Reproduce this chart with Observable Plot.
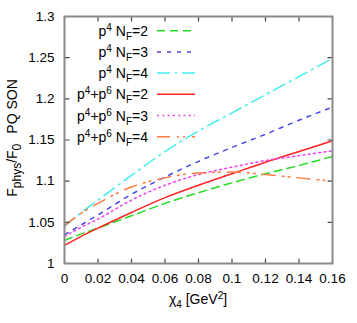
<!DOCTYPE html>
<html><head><meta charset="utf-8">
<script src="https://cdn.jsdelivr.net/npm/d3@7"></script>
<script src="https://cdn.jsdelivr.net/npm/@observablehq/plot@0.6"></script>
<style>body{margin:0;background:#fff;} #chart svg{display:block;overflow:visible;}</style>
</head><body><div id="chart"></div>
<script>
// chi_4 values (GeV^2) at which curves are sampled
const chi = [0, 0.01, 0.02, 0.04, 0.06, 0.08, 0.10, 0.12, 0.14, 0.16];
// F_phys/F_0 for each curve
const p4_NF2   = [1.028, 1.036, 1.043, 1.058, 1.073, 1.086, 1.098, 1.109, 1.119, 1.130];
const p4_NF3   = [1.035, 1.047, 1.059, 1.084, 1.105, 1.124, 1.141, 1.157, 1.174, 1.190];
const p4_NF4   = [1.045, 1.062, 1.077, 1.107, 1.136, 1.161, 1.183, 1.205, 1.227, 1.249];
const p4p6_NF2 = [1.022, 1.033, 1.043, 1.062, 1.080, 1.095, 1.109, 1.123, 1.136, 1.149];
const p4p6_NF3 = [1.033, 1.044, 1.054, 1.077, 1.095, 1.108, 1.117, 1.125, 1.131, 1.137];
const p4p6_NF4 = [1.046, 1.061, 1.073, 1.093, 1.104, 1.110, 1.111, 1.108, 1.104, 1.100];

const xTicks = [0, 0.02, 0.04, 0.06, 0.08, 0.10, 0.12, 0.14, 0.16];
const yTicks = [1, 1.05, 1.1, 1.15, 1.2, 1.25, 1.3];
const xDomain = [0, 0.16];
const yDomain = [1, 1.3];

const series = [
  {values: p4_NF2,   order: "p4",   nf: "2", color: "#22dd22", dash: "8,5"},
  {values: p4_NF3,   order: "p4",   nf: "3", color: "#4646ee", dash: "4,6"},
  {values: p4_NF4,   order: "p4",   nf: "4", color: "#44eeee", dash: "13,5,2,5"},
  {values: p4p6_NF2, order: "p4p6", nf: "2", color: "#ff2424", dash: null},
  {values: p4p6_NF3, order: "p4p6", nf: "3", color: "#ee44ee", dash: "2,3.3"},
  {values: p4p6_NF4, order: "p4p6", nf: "4", color: "#ff7a44", dash: "13,7,2,4,2,7"}
];

const fmt = d => String(+d.toFixed(2));
const tickShape = {draw(ctx, l) { ctx.moveTo(0, 0); ctx.lineTo(0, -l); }};
const tickStyle = {length: 4.5, anchor: "start", shape: tickShape, stroke: "#444", strokeWidth: 1.2};

const lineMarks = series.map(s =>
  Plot.line(chi.map((c, i) => ({x: c, y: s.values[i]})), {
    x: "x", y: "y", stroke: s.color, strokeWidth: 1.5,
    strokeDasharray: s.dash, curve: "monotone-x"
  })
);

const plot = Plot.plot({
  width: 357, height: 323,
  marginLeft: 64, marginRight: 25, marginTop: 16, marginBottom: 60,
  style: {fontFamily: "'Liberation Sans', Arial, sans-serif", fontSize: "13.5px", background: "#fff"},
  x: {domain: xDomain},
  y: {domain: yDomain},
  marks: [
    ...lineMarks,
    Plot.vector(xTicks, {x: d => d, y: () => yDomain[0], rotate: 0, ...tickStyle}),
    Plot.vector(xTicks, {x: d => d, y: () => yDomain[1], rotate: 180, ...tickStyle}),
    Plot.vector(yTicks, {y: d => d, x: () => xDomain[0], rotate: 90, ...tickStyle}),
    Plot.vector(yTicks, {y: d => d, x: () => xDomain[1], rotate: 270, ...tickStyle}),
    Plot.frame({stroke: "#8a8a8a", strokeWidth: 2}),
    Plot.axisX({ticks: xTicks, tickSize: 0, tickPadding: 10, tickFormat: fmt, label: null, fontSize: 13.5}),
    Plot.axisY({ticks: yTicks, tickSize: 0, tickPadding: 10, tickFormat: fmt, label: null, fontSize: 13.5})
  ]
});
document.getElementById("chart").appendChild(plot);

const svg = d3.select(plot);
const font = "'Liberation Sans', Arial, sans-serif";

function rich(textSel, parts, base, small, up, down) {
  let cur = 0;
  parts.forEach(([txt, kind, dx]) => {
    const target = kind === "sup" ? -up : kind === "sub" ? down : 0;
    const t = textSel.append("tspan").attr("dy", target - cur)
      .attr("font-size", kind ? small : base).text(txt);
    if (dx) t.attr("dx", dx);
    cur = target;
  });
}

// legend
const leg = svg.append("g").attr("font-family", font).attr("fill", "#000");
series.forEach((s, i) => {
  const cy = 30.7 + i * 21.2;
  const t = leg.append("text").attr("x", 148).attr("y", cy + 5)
    .attr("text-anchor", "end").style("white-space", "pre");
  const parts = s.order === "p4"
    ? [["p"], ["4", "sup"], [" N"], ["F", "sub"], ["=" + s.nf]]
    : [["p"], ["4", "sup"], ["+p"], ["6", "sup"], [" N"], ["F", "sub"], ["=" + s.nf]];
  rich(t, parts, 14, 10, 5, 4);
  leg.append("line").attr("x1", 157).attr("x2", 195).attr("y1", cy).attr("y2", cy)
    .attr("stroke", s.color).attr("stroke-width", 1.5)
    .attr("stroke-dasharray", s.dash);
});

// y title
const yt = svg.append("text").attr("font-family", font).attr("fill", "#000")
  .attr("text-anchor", "middle").attr("transform", "translate(17,138) rotate(-90)")
  .style("white-space", "pre");
rich(yt, [["F"], ["phys", "sub"], ["/F"], ["0", "sub"], ["PQ SON", null, 10]], 14, 12, 5, 4);

// x title
const xt = svg.append("text").attr("font-family", font).attr("fill", "#000")
  .attr("text-anchor", "middle").attr("x", 198).attr("y", 303.5)
  .style("white-space", "pre");
rich(xt, [["χ"], ["4", "sub"], [" [GeV"], ["2", "sup"], ["]"]], 14, 10, 5, 4);
</script>
</body></html>
